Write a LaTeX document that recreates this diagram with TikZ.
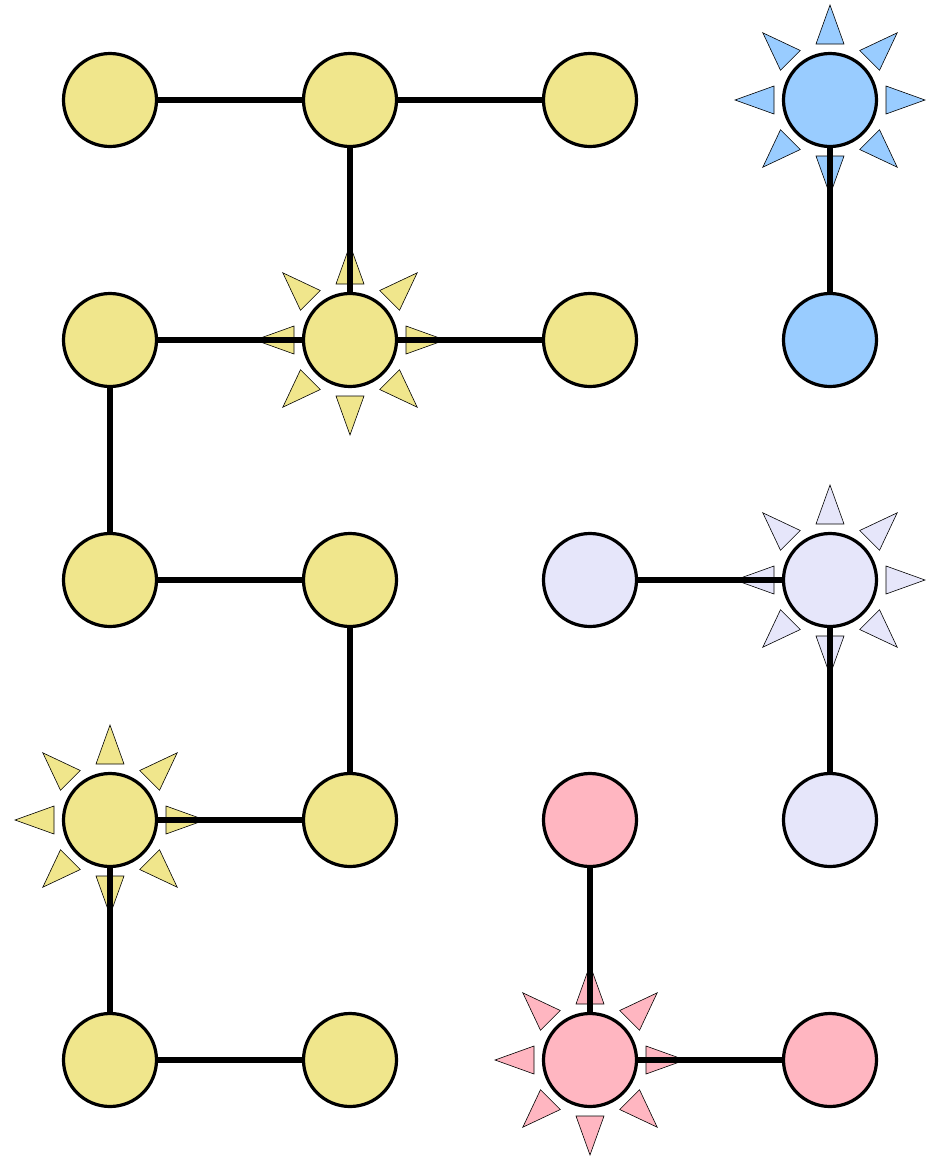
\documentclass[tikz,border=0pt]{standalone}
\definecolor{ykh}{HTML}{F0E68C}
\definecolor{bsky}{HTML}{99CCFF}
\definecolor{lav}{HTML}{E6E6FA}
\definecolor{lpink}{HTML}{FFB6C1}
\pgfdeclarelayer{tri}
\pgfdeclarelayer{background}
\pgfsetlayers{tri,background,main}
\tikzset{
  dot/.style={circle, draw=black, line width=3.2pt, minimum size=93pt, inner sep=0pt},
  link/.style={line width=6.5pt, draw=black},
  ray/.style={draw=black, line width=0.6pt}
}
\newcommand{\sunrays}[2]{%
  \begin{pgfonlayer}{tri}
  \foreach \a in {0,45,...,315}{
    \path[ray, fill=#2, shift={(#1.center)}, rotate=\a] (56pt,14pt) -- (95pt,0pt) -- (56pt,-14pt) -- cycle;
  }
  \end{pgfonlayer}}
\begin{document}
\begin{tikzpicture}[x=1pt,y=-1pt]
\useasboundingbox (0,0) rectangle (935,1157);
% yellow
\node[dot, fill=ykh] (a00) at (110,100) {};
\node[dot, fill=ykh] (a10) at (350,100) {};
\node[dot, fill=ykh] (a20) at (590,100) {};
\node[dot, fill=ykh] (a01) at (110,340) {};
\node[dot, fill=ykh] (a11) at (350,340) {};
\node[dot, fill=ykh] (a21) at (590,340) {};
\node[dot, fill=ykh] (a02) at (110,580) {};
\node[dot, fill=ykh] (a12) at (350,580) {};
\node[dot, fill=ykh] (a03) at (110,820) {};
\node[dot, fill=ykh] (a13) at (350,820) {};
\node[dot, fill=ykh] (a04) at (110,1060) {};
\node[dot, fill=ykh] (a14) at (350,1060) {};
% blue
\node[dot, fill=bsky] (b30) at (830,100) {};
\node[dot, fill=bsky] (b31) at (830,340) {};
% lavender
\node[dot, fill=lav] (c22) at (590,580) {};
\node[dot, fill=lav] (c32) at (830,580) {};
\node[dot, fill=lav] (c33) at (830,820) {};
% pink
\node[dot, fill=lpink] (d23) at (590,820) {};
\node[dot, fill=lpink] (d24) at (590,1060) {};
\node[dot, fill=lpink] (d34) at (830,1060) {};
\begin{pgfonlayer}{background}
\draw[link] (a00.center) -- (a10.center);
\draw[link] (a10.center) -- (a20.center);
\draw[link] (a10.center) -- (a11.center);
\draw[link] (a01.center) -- (a11.center);
\draw[link] (a11.center) -- (a21.center);
\draw[link] (a01.center) -- (a02.center);
\draw[link] (a02.center) -- (a12.center);
\draw[link] (a12.center) -- (a13.center);
\draw[link] (a03.center) -- (a13.center);
\draw[link] (a03.center) -- (a04.center);
\draw[link] (a04.center) -- (a14.center);
\draw[link] (b30.center) -- (b31.center);
\draw[link] (c22.center) -- (c32.center);
\draw[link] (c32.center) -- (c33.center);
\draw[link] (d23.center) -- (d24.center);
\draw[link] (d24.center) -- (d34.center);
\end{pgfonlayer}
\sunrays{b30}{bsky}
\sunrays{a11}{ykh}
\sunrays{c32}{lav}
\sunrays{a03}{ykh}
\sunrays{d24}{lpink}
\end{tikzpicture}
\end{document}
